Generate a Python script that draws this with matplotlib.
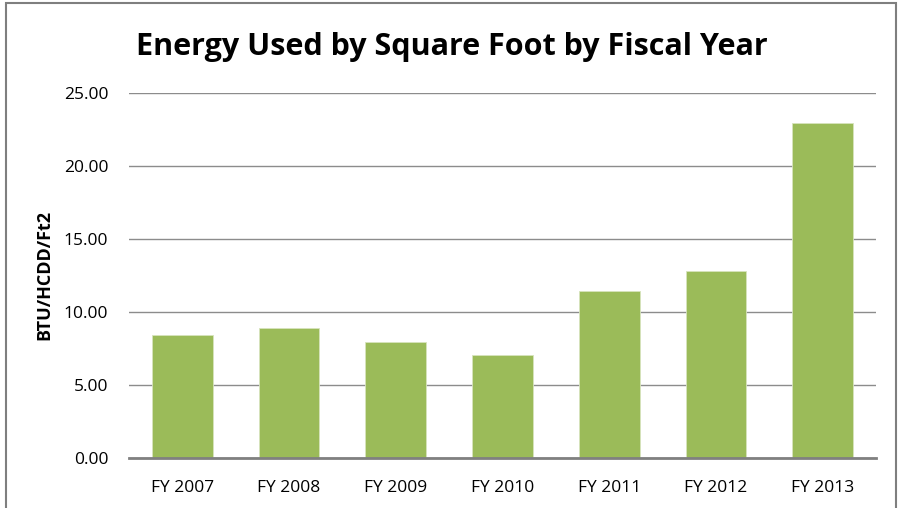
import matplotlib
matplotlib.use("Agg")
import matplotlib.pyplot as plt
from matplotlib.patches import Rectangle

# dados
anos = ["FY 2007", "FY 2008", "FY 2009", "FY 2010", "FY 2011", "FY 2012", "FY 2013"]
energia = [8.42, 8.88, 7.95, 7.05, 11.44, 12.83, 22.95]
ticks_y = [0, 5, 10, 15, 20, 25]

plt.rcParams["font.family"] = ["Open Sans", "DejaVu Sans"]

fig = plt.figure(figsize=(8.98, 5.08), dpi=100)
ax = fig.add_axes([129 / 898, 1 - 458 / 508, 747 / 898, 365 / 508])

ax.bar(range(len(anos)), energia, width=0.57, color="#9BBB59", edgecolor="#D7E4BD", linewidth=0.6, zorder=3)

ax.set_xlim(-0.5, len(anos) - 0.5)
ax.set_ylim(0, 25)
ax.set_yticks(ticks_y)
ax.set_yticklabels([f"{v:.2f}" for v in ticks_y])
ax.set_xticks(range(len(anos)))
ax.set_xticklabels(anos)
ax.tick_params(axis="both", length=0, labelsize=12.5, colors="black")
ax.tick_params(axis="y", pad=15)
ax.tick_params(axis="x", pad=16)

ax.grid(axis="y", color="#8C8C8C", linewidth=1.0, zorder=0)
for lado in ["top", "right", "left"]:
    ax.spines[lado].set_visible(False)
ax.spines["bottom"].set_color("#808080")
ax.spines["bottom"].set_linewidth(2)
ax.spines["bottom"].set_zorder(4)

ax.set_ylabel("BTU/HCDD/Ft2", fontsize=13, fontweight="bold")
ax.yaxis.set_label_coords(53 / 898, 1 - 275 / 508, transform=fig.transFigure)

fig.text(452 / 898, 1 - 47 / 508, "Energy Used by Square Foot by Fiscal Year",
         ha="center", va="center", fontsize=22, fontweight="bold")

# moldura do gráfico
fig.patches.append(Rectangle((6 / 898, -0.05), 890 / 898, 1.05 - 3 / 508,
                             transform=fig.transFigure, fill=False,
                             edgecolor="#7F7F7F", linewidth=1.5))

fig.savefig("out.png", dpi=100)
